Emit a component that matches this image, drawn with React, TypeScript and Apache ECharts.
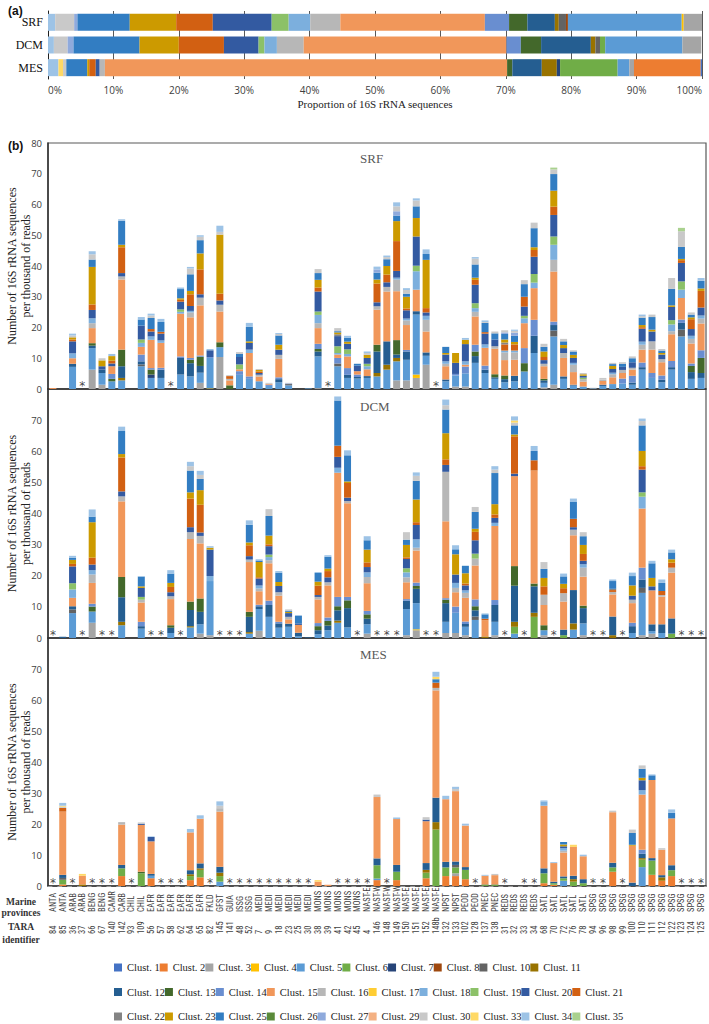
import React, { useEffect, useRef } from 'react';
import * as echarts from 'echarts';

// ---------- data ----------
const CLUSTERS = [1, 2, 3, 4, 5, 6, 7, 8, 10, 11, 12, 13, 14, 15, 16, 17, 18, 19, 20, 21, 22, 23, 25, 26, 27, 29, 30, 33, 34, 35];
const CLUSTER_COLORS = ['#4472C4', '#ED7D31', '#A5A5A5', '#FFC000', '#5B9BD5', '#70AD47', '#264478', '#9E480E', '#636363', '#997300',
  '#255E91', '#43682B', '#698ED0', '#F1975A', '#B7B7B7', '#FFCD33', '#7CAFDD', '#8CC168', '#335AA1', '#D26012',
  '#848484', '#CC9A00', '#327DC2', '#5A8A39', '#8FAADC', '#F4B183', '#C9C9C9', '#FFD966', '#9DC3E6', '#A9D18E'];
const DEPTHS = ['SRF', 'DCM', 'MES'];

// panel (a): proportion (%) of 16S rRNA sequences, "cluster:value"
const PROP_SRF = '34:1.1 30:2.9 27:0.5 25:8 23:7.1 21:5.6 20:9 19:2.6 18:3.3 16:4.6 15:22.1 14:3.7 13:2.8 12:4.2 11:0.6 10:1.1 8:0.3 5:17.4 4:0.3 3:2.8';
const PROP_DCM = '34:0.9 30:2.1 27:0.9 25:10.1 23:6 21:6.9 20:5.3 19:0.9 18:1.9 16:4.1 15:31 14:2.2 13:3.1 12:7.6 11:0.7 10:0.7 6:0.8 5:11.8 3:2.9';
const PROP_MES = '34:1.6 33:0.7 30:0.5 25:3.2 23:0.3 21:1 20:0.6 16:0.8 15:61.5 13:0.8 12:4.5 11:2.3 7:0.5 6:8.8 5:1.8 3:0.7 2:10.2 1:0.2';

const PROVINCES = ['ANTA', 'ANTA', 'ARAB', 'ARAB', 'BENG', 'BENG', 'CAMR', 'CARB', 'CHIL', 'CHIL',
  'EAFR', 'EAFR', 'EAFR', 'EAFR', 'EAFR', 'EAFR', 'FKLD', 'GFST', 'GUIA', 'ISSG', 'ISSG',
  'MEDI', 'MEDI', 'MEDI', 'MEDI', 'MEDI', 'MEDI', 'MONS', 'MONS', 'MONS', 'MONS', 'MONS',
  'NAST-E', 'NAST-W', 'NAST-W', 'NAST-W', 'NAST-E', 'NAST-E', 'NAST-E', 'NAST-E', 'NPST', 'NPST',
  'PEOD', 'PEOD', 'PNEC', 'PNEC', 'REDS', 'REDS', 'REDS', 'REDS', 'SATL', 'SATL', 'SATL', 'SATL', 'SATL',
  'SPSG', 'SPSG', 'SPSG', 'SPSG', 'SPSG', 'SPSG', 'SPSG', 'SPSG', 'SPSG', 'SPSG', 'SPSG', 'SPSG'];
const TARA_IDS = ['84', '85', '36', '37', '66', '67', '140', '142', '93', '109', '56', '57', '58', '62', '64', '65', '82', '145', '141',
  '48', '52', '7', '9', '18', '23', '25', '30', '38', '39', '41', '42', '45', '4', '146', '148', '149', '150', '151', '152', '148b',
  '132', '133', '102', '128', '137', '138', '31', '32', '33', '34', '68', '70', '72', '76', '78', '94', '96', '98', '99', '100',
  '110', '111', '112', '122', '123', '124', '125'];

// panel (b): sequences per thousand reads, one string per station, "cluster:value"
const SRF_BARS = [
  '15:0.3', '', '5:7.2 12:1 15:1.8 18:1.6 20:3.9 21:0.6 23:0.7 30:0.6 34:0.6', '',
  '3:6.3 5:7 12:0.8 13:0.8 15:4.9 16:1.6 18:1.6 20:2.7 21:1.8 23:12.2 25:2.4 30:1.7 34:1',
  '3:1.4 5:3.8 12:1.1 20:1.1 23:1.9 30:0.7',
  '5:2.5 13:0.8 14:1.6 15:2.5 20:0.9 21:0.9 23:1.5 34:0.7',
  '5:2.8 11:0.8 12:3.8 13:5.4 15:22.8 16:1 20:1.1 21:8.4 23:0.8 25:7.8 34:0.5',
  '',
  '5:7.4 10:0.6 12:1 14:2.2 15:2.5 18:1.3 19:1.1 20:4.5 25:2 34:0.8',
  '5:3.6 7:1.1 13:1.6 14:0.5 15:9.2 18:1.1 20:1.6 21:0.8 25:3.6 30:0.8 34:0.6',
  '5:3.6 12:2.7 14:0.6 15:8.1 18:0.8 20:2.2 21:0.6 25:3.2 34:1',
  '',
  '5:4.7 12:5.4 14:0.5 15:13.9 18:0.6 19:0.8 20:2.5 21:0.6 23:0.5 25:3 34:0.5',
  '5:4.1 12:4.3 13:1.1 14:0.6 15:13.2 16:1.6 18:0.5 20:1.6 21:3.8 23:1.1 25:5.4 30:1.9 34:0.5',
  '3:2 5:3.3 12:2.2 13:3 14:0.4 15:16.3 16:2.5 20:1.1 21:8.1 23:5.2 25:4.3 30:1.1 34:0.5',
  '4:0.2 5:9.9 14:0.3 20:2.2 34:0.4',
  '3:10.4 5:3.2 13:1.6 15:10 16:2.2 20:1.4 21:2.2 23:19.2 30:0.9 34:2',
  '13:1.2 15:1.6 16:0.5 21:0.9 30:0.3',
  '5:4.6 14:1.2 15:0.6 19:1.6 20:2.4 25:1 30:0.6',
  '5:3.3 14:0.8 15:7.6 18:1.1 20:2.2 23:0.5 25:4.7 34:1.3',
  '5:2.5 15:1.6 16:0.5 20:0.6 21:0.5 23:0.5 30:0.3',
  '5:1 14:0.4 15:0.3 30:0.3',
  '5:2.2 12:1 14:0.6 15:6 16:1.3 20:1.7 23:1.6 25:3 30:0.5 34:0.3',
  '5:1.2 10:0.4 14:0.2 30:0.2',
  '',
  '5:0.2',
  '3:0.3 5:10.3 12:1.6 13:0.8 14:1.7 15:5.1 16:1.6 18:2.7 19:1.1 20:6.5 21:1.3 23:2.5 25:2.2 30:1.3',
  '',
  '5:7.4 10:0.9 14:1.8 15:1.1 18:0.5 19:2.2 20:3.3 22:0.6 23:0.6 25:0.4 30:1',
  '5:3.6 12:1 14:2.2 15:3.8 18:0.8 19:1.5 20:1.8 23:0.7 25:1.3 34:0.6',
  '5:3.4 12:0.5 14:0.8 15:1.1 20:1.8 25:0.6',
  '5:3.6 12:0.6 15:2.2 18:1 19:0.8 20:1.9 23:1 30:0.6 34:0.5',
  '5:4.1 11:1.1 12:7 13:2.2 15:11.4 16:1.1 20:1.3 21:6.1 23:1.3 25:2.2 27:1.1 34:0.9',
  '5:6.3 11:1.6 12:7.6 15:16.2 16:1.5 20:1.5 21:2.5 23:2.8 25:2.2 30:0.7 34:0.5',
  '3:2.8 5:6.2 11:1.1 12:1.1 13:4.7 15:15.9 16:3.8 18:0.6 20:2.2 21:9.7 23:6.5 25:1.8 27:1.4 30:1.6 34:1.3',
  '3:2.8 5:6.7 12:2.7 14:0.5 15:8.1 16:1.5 18:0.6 20:2.7 21:0.6 23:3.8 25:1 30:1.2 34:0.6',
  '3:3.6 4:1.1 5:19.5 12:1.1 15:7 18:6 19:1.8 20:9.5 23:6 25:3.8 30:1.9 34:0.7',
  '3:7.9 5:2.9 12:1.1 15:6.8 16:3.8 18:1.3 20:1.1 21:1.4 23:15.7 25:1.9 34:1.5',
  '',
  '5:2.5 12:0.6 15:4.3 16:0.8 18:0.8 20:2.2 23:0.5 25:2',
  '3:0.8 5:3.6 14:0.5 20:3.6 23:3.2',
  '3:0.8 5:4.3 14:2.2 15:0.6 18:1.1 20:5.6 23:1.4 34:0.6',
  '5:8.5 12:2.2 13:1.5 14:2.2 15:9.2 16:1.5 18:1.2 19:1.6 20:6 21:1.6 23:0.7 25:4.3 30:1.9 34:0.5',
  '5:5.2 12:1.1 14:1.3 15:5.8 18:1.1 20:3.5 21:0.5 25:3 30:0.3 34:0.5',
  '5:3.3 12:0.5 13:1 15:8.3 16:0.8 20:2.2 25:2 30:0.6',
  '5:2.2 12:1 13:1.2 15:5 16:2.5 18:0.6 21:2 22:0.6 23:1 25:1.8 27:0.5 30:0.7',
  '5:2.5 12:1.8 15:5.2 16:2.4 18:0.6 21:2 23:0.8 25:2 27:1 30:0.6 34:0.4',
  '5:5.7 13:2.7 14:4.9 15:8.1 18:1.6 19:0.8 20:3 21:3.2 25:4.1 30:1.3',
  '5:11.7 12:5.6 14:5.2 15:10.3 18:1.8 19:2.8 20:5.6 21:2.2 23:0.9 25:6.2 30:1.8',
  '3:0.5 5:1.5 12:0.8 13:0.5 15:4.1 16:0.8 20:1.2 21:1 23:1.8 25:1.5 30:1',
  '3:1.4 5:15.7 10:1.9 12:1.8 14:1.1 15:16.3 16:3.8 18:4.9 19:2.7 20:7 21:2.7 23:5.2 25:5.4 30:1.5 35:0.6',
  '5:3.3 12:0.8 15:6 16:1.6 20:1.6 23:1 25:1.2 30:0.8',
  '5:1.1 12:0.3 15:4.1 16:2.4 18:0.6 20:1.6 23:1 25:1.1 30:0.4',
  '5:0.8 15:1.6 16:0.8 19:0.5 20:0.6 23:0.5 30:0.4',
  '5:0.2 30:0.2',
  '5:1 12:0.4 15:1.2 16:0.5 30:0.5',
  '5:1.6 15:2.2 16:1 18:0.5 20:1.2 23:1 25:0.6 30:0.4',
  '5:1.8 14:1.6 15:1.8 16:1 20:1 25:1 30:0.5',
  '5:1.4 12:0.7 14:2.2 15:2 16:0.6 20:1.8 25:1.3 30:0.6',
  '5:6.3 12:0.8 14:1.5 15:4.2 16:1.6 18:1 20:4.2 21:0.5 23:0.7 25:2.4 30:0.5 34:0.5',
  '5:3.6 14:1.6 15:7.6 16:2.7 20:3.2 23:0.6 25:4.1 30:0.8',
  '5:2.2 12:0.8 14:1.4 15:4.3 16:1 20:1.5 23:0.5 25:0.8 30:0.5',
  '5:6.3 12:0.8 14:2 15:8.7 16:1 18:2.2 19:1.4 20:4.3 23:0.5 25:5.4 30:3.5',
  '5:17.1 10:2.2 12:2.2 14:1.1 15:7 18:2.7 19:2.7 20:6 21:0.9 23:0.4 25:3.9 30:5.1 35:1.1',
  '5:3.3 12:2.2 13:2 14:0.8 15:6.5 16:1.5 18:1 20:2.2 21:3.2 23:0.6 25:0.9 30:0.7',
  '5:3.6 12:1.6 13:4.9 14:2.5 15:8.7 16:1.6 18:1 20:2.6 21:5.4 23:0.8 25:2.5 34:0.9',
];
const DCM_BARS = [
  '', '12:0.4',
  '5:8 10:1.2 12:1 15:2.7 18:2.7 19:2 20:5.4 21:0.8 23:1.3 25:0.7 34:0.6',
  '',
  '3:4.9 5:3.6 13:1.6 14:0.9 15:6.7 16:2.7 18:1.4 20:1.8 21:2.2 23:11.4 25:1.8 34:2.3',
  '', '',
  '5:4.1 11:1.1 12:7.9 13:6.5 15:24.3 16:1.6 20:1.6 21:10.9 23:1.1 25:7.4 34:1.4',
  '',
  '5:3 12:0.8 14:1.4 15:6.2 16:0.9 19:0.9 20:2.9 23:0.5 25:3.1 34:0.2',
  '', '',
  '5:1.6 12:1.7 13:0.8 15:8.4 16:0.9 20:1.3 21:1.7 23:1.3 25:3 34:1.1',
  '',
  '5:3.4 11:0.4 12:5.2 13:2.7 15:20.1 16:2.2 20:1.6 21:9.2 23:2 25:7 30:1.4 34:1.4',
  '3:1.4 5:3 12:4 13:4.3 15:17.7 16:2.4 20:1.1 21:8.9 23:4.7 25:3.6 30:1.3 34:1.3',
  '3:0.9 5:17.4 18:1.6 20:8.5 23:0.6 34:0.5',
  '', '', '',
  '5:1.4 11:0.5 12:4.9 13:1.6 15:16 16:0.8 20:1.1 21:3.5 23:0.9 25:5.7 34:1.4',
  '3:2.3 5:7 12:0.9 14:0.5 15:4.3 16:0.9 18:1 20:2.2 21:0.4 23:4.9 25:0.5 34:0.4',
  '5:6.8 12:3.8 14:1.4 15:12 16:1 18:1 19:0.8 20:2.7 21:0.6 23:2.8 25:6.3 30:2.2',
  '5:3.3 12:1.4 14:0.5 15:8.4 16:1.1 20:2 23:1.3 25:3 34:0.5',
  '5:3.6 12:1 15:1.4 16:0.8 20:1.2 23:0.4 25:0.4 30:0.4',
  '5:0.5 12:1.2 15:2.5 20:0.5 25:2.5',
  '12:0.2',
  '5:1.2 12:1.3 13:1.3 14:1 15:7.6 16:0.8 20:0.6 21:3 23:1.3 25:2.8 34:0.3',
  '5:2.5 12:1.5 13:1.5 14:1.1 15:10.3 16:1 20:1.6 21:2 23:0.8 25:3.8 34:0.5',
  '5:4.9 11:0.7 12:3.3 13:1.3 14:3 15:39.9 18:1.6 20:3.5 21:3.6 25:14.5 34:1.3',
  '5:3.4 12:6.2 13:2.5 14:1.1 15:30.1 16:0.7 20:1.1 21:4.7 23:0.5 25:8.4 34:1.6',
  '',
  '3:1.4 5:3 12:1.8 13:1.4 14:1.1 15:8.9 16:2 18:1.5 20:1.7 21:1.5 23:4.1 25:3 34:1.3',
  '', '', '',
  '3:0.9 5:8.4 12:2.7 14:0.5 15:5.4 16:1.6 18:1.6 19:1.3 20:3 21:0.5 23:4 25:1.7 30:2.4',
  '3:2.5 4:0.3 5:8.4 12:4.6 13:0.9 14:1.1 15:10.3 16:0.9 18:2.7 20:4.6 21:0.9 23:7.3 25:6 30:1.6 34:1.1',
  '', '',
  '3:1.6 5:3.6 12:6 13:1.1 14:0.5 15:24.7 16:15.9 20:2.2 21:1.8 23:8.4 25:7.6 30:1.4 34:1.8',
  '3:1.6 5:6.5 14:2 15:4.6 16:1.4 18:1.6 20:2.7 23:6.5 25:1.6 34:1.3',
  '3:0.9 5:2.7 12:0.9 14:0.8 15:7.6 16:1.6 18:0.8 20:1.6 21:0.6 23:3.3 25:2.4',
  '5:5.8 10:1.1 12:2 13:1.3 14:2.2 15:10.9 16:2.2 19:1.6 20:4.3 21:2.7 23:1 25:5.4 30:1.6',
  '11:0.5 15:5.2 21:0.5 25:1.4 34:0.3',
  '3:0.9 5:4.3 12:5.4 14:1.6 15:23.8 18:1 20:1.6 21:1.1 23:3.3 25:10 30:1.1 34:1.1',
  '',
  '5:1.4 6:2.2 11:1.6 12:11.6 13:6.3 15:28.9 20:0.8 21:12 23:0.6 25:2.9 30:0.9 33:0.7 34:1.3',
  '',
  '6:6.8 11:1.3 12:8.5 13:0.9 15:36.3 21:3.3 25:3 34:1.6',
  '3:0.9 5:1.6 13:1.6 15:6.5 16:3.3 21:2.7 23:2.7 25:2.9 30:2.2',
  '',
  '6:0.9 12:1.8 15:9 16:2.7 21:1.6 23:1.4 25:2.4 34:0.9',
  '5:2.7 11:2 12:10.7 15:17.6 16:1.8 20:0.8 21:2.7 25:5.4 34:1.1',
  '3:0.9 5:3.8 12:4.9 13:0.8 15:9.3 16:2.9 18:1.1 20:1.1 21:2.2 23:2.9 25:2.8 30:1.3',
  '', '',
  '11:0.9 12:6 15:7.1 16:0.8 21:0.6 22:0.4 25:2.5 34:0.5',
  '',
  '5:1.6 12:2.2 14:1.1 15:6.3 16:1.1 20:1.3 23:3.3 25:3 34:1.1',
  '3:0.9 5:13.6 10:1.6 12:2.7 14:3.8 15:19 18:3.8 19:1.4 20:7.3 21:1.1 23:4.9 25:8.2 30:1.4 34:0.8',
  '3:1.4 5:0.8 12:2.2 15:10.9 20:1.3 23:2.7 25:4.7 34:0.8',
  '5:1.6 12:2.8 15:8.9 16:0.5 21:1.3 25:2.6 34:1.1',
  '6:1.4 12:4.9 15:14.7 16:1.6 21:1.6 23:1.1 25:2.2 34:0.9',
  '', '', '',
];
const MES_BARS = [
  '', '2:0.5 6:1.5 10:0.6 12:1 15:20.4 21:1.2 30:0.4 33:0.3 34:0.9', '', '11:0.5 15:2.8 33:0.6',
  '', '', '', '2:3.2 6:2.5 12:1.1 15:13 16:0.8', '',
  '6:4.1 13:0.5 15:15.1 20:0.4 30:0.4',
  '2:2.5 5:0.8 12:0.6 15:10.5 20:1.4 34:0.2',
  '', '', '',
  '2:1.9 6:1.3 11:0.6 12:1.3 15:12.2 34:1.1',
  '2:2.8 6:2.4 11:0.5 12:1.6 15:14.4 34:1.1',
  '',
  '5:1.4 6:1.8 11:1.1 12:1.9 15:17.8 16:1.1 30:0.8 34:1.4',
  '', '', '', '', '', '', '', '', '',
  '15:1.4 33:0.5', '15:0.4',
  '', '', '', '',
  '2:1.9 5:0.5 6:4.3 12:2.2 15:19.8 30:0.8',
  '',
  '2:1.9 6:2.7 12:2.2 15:14.8 34:0.5',
  '', '',
  '2:2.5 6:1.8 11:0.9 12:2.2 15:13.5 20:0.5 30:0.8',
  '6:18.2 11:2.4 12:7.9 15:34.6 16:0.8 21:1.7 25:1.1 33:0.8 34:1.6',
  '2:3.2 6:2.8 12:1.8 15:20.2 34:1.1',
  '2:3.2 3:0.9 6:1.9 10:0.8 12:1.1 15:22.7 30:0.7 34:0.7',
  '2:2.2 6:3 12:0.9 15:13.4 34:0.6',
  '',
  '6:0.3 13:0.2 15:2.8 34:0.3',
  '6:0.3 13:0.2 15:3 30:0.4',
  '', '', '', '',
  '2:0.9 6:3.2 12:1.6 15:20.2 18:1.4 34:0.3',
  '2:0.4 6:0.5 12:0.5 15:6 34:0.3',
  '5:1.7 6:0.8 12:0.6 15:7.7 16:0.6 18:0.8 20:0.6 23:0.6 25:0.8',
  '6:1.4 11:0.8 12:1.1 15:9.3 33:0.7',
  '6:0.9 12:1.3 15:7.4 34:0.5',
  '', '',
  '2:4.6 6:1.4 12:1.5 15:16.3 30:0.5',
  '',
  '12:1.1 15:11.9 23:0.3 25:3.8 30:1.1',
  '5:6.1 6:2.4 11:0.5 12:1.4 14:1.3 15:17.8 18:1.4 20:3.2 23:0.8 25:2.9 30:1.1',
  '2:3.6 6:4.6 12:0.8 15:25.2 25:1.5 34:0.3',
  '2:1.7 11:1.1 12:0.7 15:8.2 30:0.5',
  '2:3.2 6:1.9 12:1.6 15:15.1 25:1.8 34:1.1',
  '', '', '',
];
// stations without a sample (marked with *)
const SRF_MISSING = [3, 12, 28, 39];
const DCM_MISSING = [0, 3, 5, 6, 10, 11, 13, 17, 18, 19, 31, 33, 34, 35, 38, 39, 46, 48, 51, 55, 56, 58, 64, 65, 66];
const MES_MISSING = [0, 2, 4, 5, 6, 8, 11, 12, 13, 16, 18, 19, 20, 21, 22, 23, 24, 25, 26, 29, 30, 31, 32, 34, 43, 46, 48, 49, 55, 56, 58, 64, 65, 66];
const Y_TICKS = [0, 10, 20, 30, 40, 50, 60, 70, 80];

// ---------- helpers ----------
const parsePairs = (s: string): Record<number, number> => {
  const out: Record<number, number> = {};
  s.trim().split(/\s+/).filter(Boolean).forEach((p) => {
    const [c, v] = p.split(':');
    out[Number(c)] = Number(v);
  });
  return out;
};

const SERIF = "'Liberation Serif', 'DejaVu Serif', serif";
const SANS = "'Open Sans', 'Noto Sans', sans-serif";
const NARROW = "'Liberation Sans Narrow', 'Roboto Condensed', 'Roboto', sans-serif";

function buildOption() {
  const names = CLUSTERS.map((c) => `Clust. ${c}`);
  const props = [PROP_SRF, PROP_DCM, PROP_MES].map(parsePairs);
  const panelBars = [SRF_BARS, DCM_BARS, MES_BARS];
  const panelMissing = [SRF_MISSING, DCM_MISSING, MES_MISSING];
  const panelGrids = [
    { left: 48, top: 143, width: 658, height: 246 },
    { left: 48, top: 389, width: 658, height: 249 },
    { left: 48, top: 638, width: 658, height: 248 },
  ];
  const noBounds = { outerBoundsMode: 'none', containLabel: false };

  const grid: any[] = [
    { left: 48, top: 11, width: 654, height: 68, ...noBounds },
    ...panelGrids.map((g) => ({ ...g, ...noBounds, show: true, borderColor: '#595959', borderWidth: 1.2, backgroundColor: 'transparent' })),
    { ...panelGrids[2], ...noBounds },
    { ...panelGrids[2], ...noBounds },
  ];

  const xAxis: any[] = [
    {
      gridIndex: 0, type: 'value', min: 0, max: 100, interval: 10,
      axisLine: { show: false }, axisTick: { show: false },
      splitLine: { show: true, lineStyle: { color: '#595959', width: 1 } },
      axisLabel: { formatter: '{value}%', fontFamily: SANS, fontSize: 10, color: '#404040', margin: 6, alignMinLabel: 'left', alignMaxLabel: 'right' },
      name: 'Proportion of 16S rRNA sequences', nameLocation: 'middle', nameGap: 19, nameMoveOverlap: false,
      nameTextStyle: { fontFamily: SERIF, fontSize: 11, color: '#222' },
    },
  ];
  for (let d = 0; d < 3; d++) {
    const isMes = d === 2;
    xAxis.push({
      gridIndex: d + 1, type: 'category', data: isMes ? PROVINCES : TARA_IDS,
      axisLine: { show: true, lineStyle: { color: '#303030', width: 1.5 } },
      axisTick: { show: false },
      axisLabel: isMes
        ? { show: true, interval: 0, rotate: 90, align: 'left', verticalAlign: 'middle', margin: 26, fontFamily: NARROW, fontSize: 8.5, color: '#404040' }
        : { show: false },
      splitLine: { show: false },
    });
  }
  xAxis.push({
    gridIndex: 4, type: 'category', data: TARA_IDS,
    axisLine: { show: false }, axisTick: { show: false }, splitLine: { show: false },
    axisLabel: { show: true, interval: 0, rotate: 90, align: 'left', verticalAlign: 'middle', margin: 48, fontFamily: NARROW, fontSize: 8.5, color: '#404040' },
  });
  xAxis.push({
    gridIndex: 5, type: 'category', data: TARA_IDS, offset: 61,
    axisLine: { show: true, lineStyle: { color: '#9a9a9a', width: 1, type: [4, 5.8] } },
    axisTick: { show: false }, axisLabel: { show: false }, splitLine: { show: false },
  });

  const yAxis: any[] = [
    {
      gridIndex: 0, type: 'category', data: DEPTHS, inverse: true,
      axisLine: { show: true, lineStyle: { color: '#202020', width: 1 } }, axisTick: { show: false },
      axisLabel: { fontFamily: SERIF, fontSize: 12, color: '#111', margin: 5 },
    },
  ];
  for (let d = 0; d < 3; d++) {
    yAxis.push({
      gridIndex: d + 1, type: 'value', min: Y_TICKS[0], max: Y_TICKS[Y_TICKS.length - 1], interval: 10,
      axisLine: { show: true, lineStyle: { color: '#303030', width: 1.5 } }, axisTick: { show: false },
      splitLine: { show: false },
      axisLabel: { fontFamily: SANS, fontSize: 9.5, color: '#404040', margin: 6, showMaxLabel: d === 0 },
      name: 'Number of 16S rRNA sequences\nper thousand of reads', nameLocation: 'middle', nameRotate: 90, nameGap: 15,
      nameMoveOverlap: false,
      nameTextStyle: { fontFamily: SERIF, fontSize: 12, color: '#222', lineHeight: 14 },
    });
  }
  yAxis.push({ gridIndex: 4, type: 'value', show: false });
  yAxis.push({ gridIndex: 5, type: 'value', show: false });

  const series: any[] = [];
  for (let k = CLUSTERS.length - 1; k >= 0; k--) {
    const c = CLUSTERS[k];
    series.push({
      type: 'bar', name: names[k], stack: 'prop', xAxisIndex: 0, yAxisIndex: 0, barWidth: 17,
      itemStyle: { color: CLUSTER_COLORS[k] }, data: props.map((p) => p[c] ?? 0),
    });
  }
  panelBars.forEach((bars, d) => {
    const parsed = bars.map(parsePairs);
    CLUSTERS.forEach((c, k) => {
      series.push({
        type: 'bar', name: names[k], stack: 'panel' + d, xAxisIndex: d + 1, yAxisIndex: d + 1, barWidth: 7,
        itemStyle: { color: CLUSTER_COLORS[k] }, data: parsed.map((p) => p[c] ?? 0),
      });
    });
    series.push({
      type: 'scatter', xAxisIndex: d + 1, yAxisIndex: d + 1, silent: true, z: 5,
      symbol: 'circle', symbolSize: 2, itemStyle: { color: 'rgba(0,0,0,0)' },
      data: panelMissing[d].map((i) => [i, 1.0]),
      label: { show: true, position: 'inside', formatter: '*', fontFamily: "'DejaVu Sans', sans-serif", fontSize: 12, color: '#111' },
    });
  });

  const legend = [0, 1, 2].map((r) => ({
    data: names.slice(r * 10, r * 10 + 10),
    left: 114, top: 962 + r * 24.5, padding: 0, orient: 'horizontal', itemWidth: 8, itemHeight: 8, itemGap: 0,
    icon: 'rect', selectedMode: false,
    formatter: (n: string) => `{t|${n}}`,
    textStyle: { fontFamily: SERIF, fontSize: 10.5, color: '#222', rich: { t: { width: 38.5, fontFamily: SERIF, fontSize: 10.5, color: '#222' } } },
  }));

  const title = [
    { text: '(a)', left: 3, top: 0, textStyle: { fontFamily: "'Liberation Sans', Arial, sans-serif", fontSize: 12, fontWeight: 'bold', color: '#111' } },
    { text: '(b)', left: 3, top: 135, textStyle: { fontFamily: "'Liberation Sans', Arial, sans-serif", fontSize: 12, fontWeight: 'bold', color: '#111' } },
    ...DEPTHS.map((t, d) => ({ text: t, left: 355, top: [147, 395, 643][d], textStyle: { fontFamily: SERIF, fontSize: 13, fontWeight: 'normal', color: '#595959' } })),
  ];

  const graphic = [
    { type: 'text', x: 21, y: 907, style: { text: 'Marine\nprovinces', fontFamily: SERIF, fontSize: 9.5, fontWeight: 'bold', fill: '#333', align: 'center', verticalAlign: 'middle', lineHeight: 11 } },
    { type: 'text', x: 21, y: 933, style: { text: 'TARA\nidentifier', fontFamily: SERIF, fontSize: 9.5, fontWeight: 'bold', fill: '#333', align: 'center', verticalAlign: 'middle', lineHeight: 13 } },
  ];

  return { animation: false, backgroundColor: '#fff', grid, xAxis, yAxis, series, legend, title, graphic };
}

export default function App() {
  const ref = useRef<HTMLDivElement>(null);
  useEffect(() => {
    if (!ref.current) return;
    const chart = echarts.init(ref.current, undefined, { renderer: 'svg' });
    chart.setOption(buildOption() as any);
    return () => chart.dispose();
  }, []);
  return <div ref={ref} style={{ position: 'fixed', left: 0, top: 0, width: 709, height: 1024, background: '#fff' }} />;
}
